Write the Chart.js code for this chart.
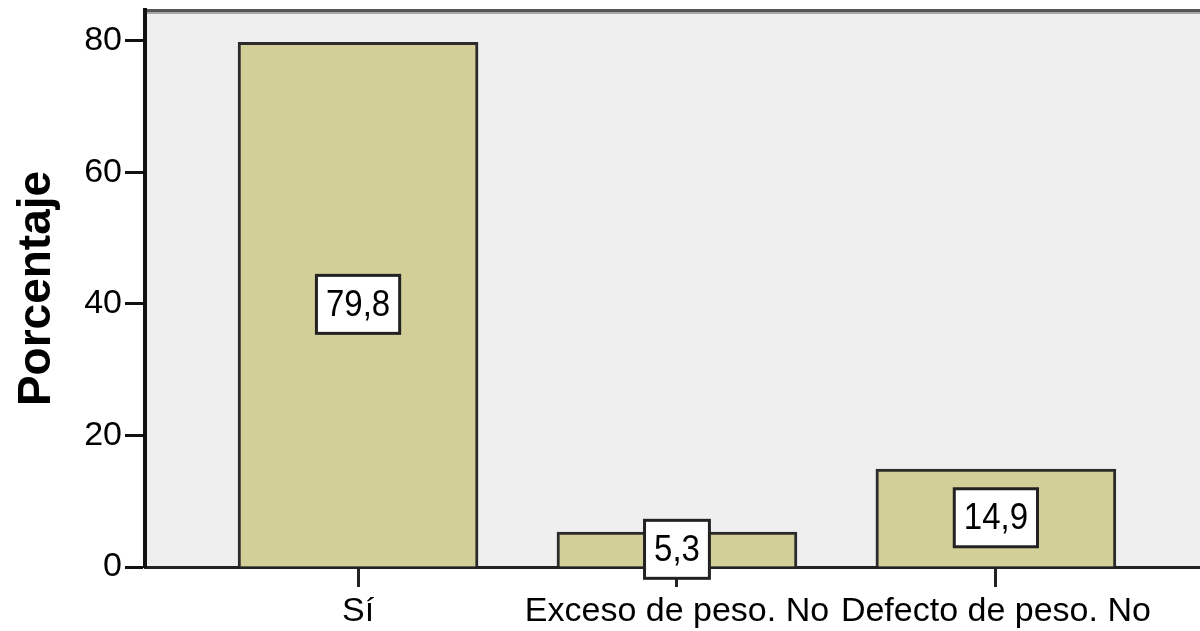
<!DOCTYPE html>
<html>
<head>
<meta charset="utf-8">
<script src="https://cdn.jsdelivr.net/npm/chart.js@4/dist/chart.umd.min.js"></script>
<style>
  html, body { margin: 0; padding: 0; background: #fff; }
  #wrap { width: 1200px; height: 631px; }
</style>
</head>
<body>
<div id="wrap"><canvas id="barChart" width="1200" height="631"></canvas></div>
<script>
// chart data
const categories = ['Sí', 'Exceso de peso. No', 'Defecto de peso. No'];
const percentages = [79.8, 5.3, 14.9];
const yTicks = [0, 20, 40, 60, 80];

const FONT = "'Liberation Sans', Arial, sans-serif";

// grey plot background and top frame
const plotFrame = {
  id: 'plotFrame',
  beforeDraw(chart) {
    const { ctx, chartArea: a } = chart;
    ctx.save();
    ctx.fillStyle = '#efefef';
    ctx.fillRect(a.left, a.top, a.right - a.left, a.bottom - a.top);
    ctx.fillStyle = '#555555';
    ctx.fillRect(a.left - 2, a.top - 1, a.right - a.left + 2, 3);
    ctx.fillStyle = '#a6a6a6';
    ctx.fillRect(a.left, a.top + 2, a.right - a.left, 2);
    ctx.restore();
  }
};

// boxed value labels in the middle of each bar
const valueBoxes = {
  id: 'valueBoxes',
  afterDraw(chart) {
    const { ctx } = chart;
    const meta = chart.getDatasetMeta(0);
    ctx.save();
    ctx.font = '33px ' + FONT;
    ctx.textAlign = 'center';
    ctx.textBaseline = 'middle';
    meta.data.forEach((bar, i) => {
      const txt = percentages[i].toFixed(1).replace('.', ',');
      const w = ctx.measureText(txt).width + 19;
      const h = 58;
      const cx = bar.x;
      const cy = (bar.y + bar.base) / 2;
      ctx.fillStyle = '#ffffff';
      ctx.fillRect(cx - w / 2, cy - h / 2, w, h);
      ctx.lineWidth = 3;
      ctx.strokeStyle = '#222222';
      ctx.strokeRect(cx - w / 2, cy - h / 2, w, h);
      ctx.fillStyle = '#000000';
      ctx.save();
      ctx.translate(cx, cy + 1);
      ctx.scale(1, 1.12);
      ctx.fillText(txt, 0, 0);
      ctx.restore();
    });
    ctx.restore();
  }
};

const ctxBar = document.getElementById('barChart').getContext('2d');
const barChart = new Chart(ctxBar, {
  type: 'bar',
  data: {
    datasets: [{
      label: 'Porcentaje',
      data: percentages.map((v, i) => ({ x: i + 1, y: v })),
      backgroundColor: '#d3cf98',
      borderColor: '#2b2b2b',
      borderWidth: 3,
      barThickness: 240
    }]
  },
  options: {
    responsive: false,
    animation: false,
    layout: { padding: { top: 10, right: 0, left: 0, bottom: 0 } },
    plugins: {
      legend: { display: false },
      tooltip: { enabled: false }
    },
    scales: {
      x: {
        type: 'linear',
        min: 0.332,
        max: 3.64,
        offset: false,
        z: 1,
        afterFit(scale) {
          scale.height = 64;
          scale.paddingLeft = 0;
          scale.paddingRight = 0;
        },
        afterBuildTicks(scale) {
          scale.ticks = categories.map((c, i) => ({ value: i + 1 }));
        },
        grid: {
          offset: false,
          drawOnChartArea: false,
          drawTicks: true,
          tickLength: 20,
          tickWidth: 3,
          tickColor: '#222222'
        },
        border: { display: true, color: '#222222', width: 3 },
        ticks: {
          autoSkip: false,
          maxRotation: 0,
          padding: 4,
          color: '#000000',
          font: { family: FONT, size: 34 },
          callback: (v) => categories[Math.round(v) - 1] || ''
        }
      },
      y: {
        min: 0,
        max: 84.7,
        z: 1,
        afterFit(scale) {
          scale.width = 145;
          scale.paddingTop = 0;
          scale.paddingBottom = 0;
        },
        afterBuildTicks(scale) {
          scale.ticks = yTicks.map(v => ({ value: v }));
        },
        grid: {
          drawOnChartArea: false,
          drawTicks: true,
          tickLength: 20,
          tickWidth: 3,
          tickColor: '#111111'
        },
        border: { display: true, color: '#111111', width: 4 },
        ticks: {
          padding: 3,
          color: '#000000',
          font: { family: FONT, size: 34 }
        },
        title: {
          display: true,
          text: 'Porcentaje',
          color: '#000000',
          font: { family: FONT, size: 46, weight: 'bold', lineHeight: 1 },
          padding: { top: 14, bottom: 0 }
        }
      }
    }
  },
  plugins: [plotFrame, valueBoxes]
});
</script>
</body>
</html>
